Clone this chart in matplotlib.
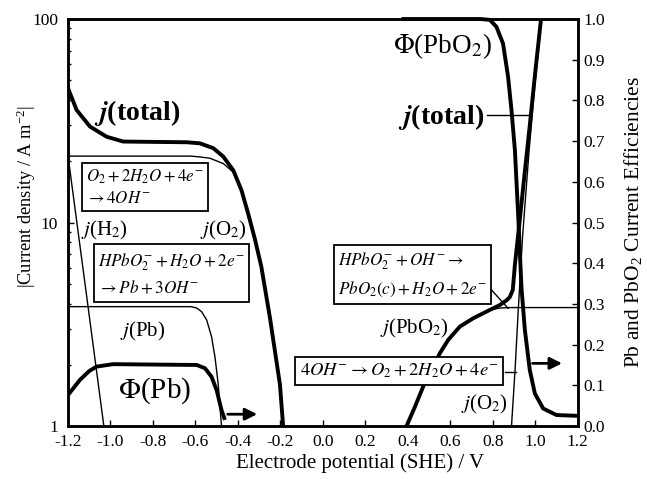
import matplotlib
matplotlib.use("Agg")
import matplotlib.pyplot as plt
from matplotlib.ticker import FixedLocator, LogLocator, NullFormatter, MultipleLocator, FormatStrFormatter

plt.rcParams['font.family'] = ['Liberation Serif', 'DejaVu Serif']
plt.rcParams['mathtext.fontset'] = 'stix'
plt.rcParams['axes.unicode_minus'] = False

# cathodic branch, potential in V (SHE), |j| in A m^-2
v_total_cat = [-1.2, -1.159, -1.096, -1.018, -0.94, -0.80, -0.641, -0.579, -0.516, -0.469,
               -0.422, -0.383, -0.352, -0.32, -0.29, -0.249, -0.202, -0.187]
j_total_cat = [45.8, 35.7, 29.6, 26.4, 25.0, 24.9, 24.8, 24.5, 23.2, 21.1,
               18.1, 14.4, 11.1, 8.3, 6.1, 3.4, 1.6, 1.0]

v_o2_cat = [-1.2, -0.62, -0.579, -0.532, -0.469, -0.422, -0.383, -0.352, -0.32, -0.29, -0.249, -0.202, -0.187]
j_o2_cat = [21.2, 21.2, 21.0, 20.7, 19.5, 17.7, 14.2, 11.0, 8.2, 6.0, 3.4, 1.6, 1.0]

v_h2 = [-1.2, -1.115, -1.031]
j_h2 = [21.4, 4.6, 1.0]

v_pb = [-1.2, -0.62, -0.594, -0.571, -0.547, -0.524, -0.508, -0.493, -0.477]
j_pb = [3.86, 3.86, 3.80, 3.65, 3.32, 2.75, 2.19, 1.62, 1.0]

v_phi_pb = [-1.2, -1.144, -1.10, -1.065, -0.987, -0.594, -0.555, -0.524, -0.50, -0.477, -0.461]
phi_pb = [0.076, 0.113, 0.135, 0.146, 0.152, 0.150, 0.142, 0.121, 0.088, 0.039, 0.015]

# anodic branch
v_total_an = [0.394, 0.433, 0.472, 0.519, 0.551, 0.590, 0.645, 0.707, 0.786, 0.833, 0.865, 0.88,
              0.894, 0.904, 0.927, 0.95, 0.974, 1.0, 1.03]
j_total_an = [1.0, 1.24, 1.56, 1.96, 2.28, 2.65, 3.08, 3.38, 3.72, 3.93, 4.15, 4.3,
              4.66, 6.2, 10.3, 17.5, 30.0, 55.0, 107.0]

v_pbo2 = [0.394, 0.433, 0.472, 0.519, 0.551, 0.590, 0.645, 0.707, 0.786, 0.833, 0.88, 1.2]
j_pbo2 = [1.0, 1.24, 1.56, 1.96, 2.28, 2.65, 3.08, 3.38, 3.72, 3.80, 3.82, 3.82]

v_o2_an = [0.888, 0.905, 0.919, 0.94, 0.97, 1.0, 1.03]
j_o2_an = [1.0, 1.9, 3.58, 8.5, 22.0, 50.0, 100.0]

v_phi_pbo2 = [0.37, 0.739, 0.786, 0.817, 0.848, 0.872, 0.888, 0.904, 0.919, 0.935, 0.951,
              0.974, 0.998, 1.037, 1.10, 1.2]
phi_pbo2 = [1.0, 1.0, 0.998, 0.981, 0.940, 0.858, 0.776, 0.678, 0.523, 0.34, 0.236,
            0.138, 0.080, 0.043, 0.027, 0.025]

fig = plt.figure(figsize=(6.47, 4.79), dpi=100)
ax = fig.add_axes([0.105, 0.1106, 0.788, 0.8497])
ax2 = ax.twinx()

thick = 2.8
thin = 1.0

ax.plot(v_total_cat, j_total_cat, color='black', lw=thick, solid_capstyle='butt')
ax.plot(v_o2_cat, j_o2_cat, color='black', lw=thin)
ax.plot(v_h2, j_h2, color='black', lw=thin)
ax.plot(v_pb, j_pb, color='black', lw=thin)
ax.plot(v_pbo2, j_pbo2, color='black', lw=thin)
ax.plot(v_o2_an, j_o2_an, color='black', lw=thin)
ax.plot(v_total_an, j_total_an, color='black', lw=thick, solid_capstyle='butt')

ax2.plot(v_phi_pb, phi_pb, color='black', lw=thick, solid_capstyle='butt')
ax2.plot(v_phi_pbo2, phi_pbo2, color='black', lw=thick, solid_capstyle='butt', clip_on=False)

ax.set_yscale('log')
ax.set_xlim(-1.2, 1.2)
ax.set_ylim(1, 100)
ax2.set_ylim(0, 1.0)

ax.xaxis.set_major_locator(MultipleLocator(0.2))
ax.xaxis.set_major_formatter(FormatStrFormatter('%.1f'))
ax.yaxis.set_major_locator(FixedLocator([1, 10, 100]))
ax.yaxis.set_major_formatter(FormatStrFormatter('%g'))
ax.yaxis.set_minor_locator(LogLocator(base=10, subs=range(2, 10)))
ax.yaxis.set_minor_formatter(NullFormatter())
ax2.yaxis.set_major_locator(MultipleLocator(0.1))
ax2.yaxis.set_major_formatter(FormatStrFormatter('%.1f'))

ax.tick_params(axis='x', which='major', direction='in', length=4, width=1, labelsize=12.5, pad=6)
ax.tick_params(axis='y', which='major', direction='in', length=4, width=1, labelsize=12.5, pad=7,
               right=False)
ax.tick_params(axis='y', which='minor', direction='in', length=2.5, width=1)
ax2.tick_params(axis='y', direction='in', length=4, width=1, labelsize=12.5, pad=4)

for sp in ax.spines.values():
    sp.set_linewidth(1.8)
for sp in ax2.spines.values():
    sp.set_linewidth(1.8)

ax.set_xlabel('Electrode potential (SHE) / V', fontsize=15)
ax.xaxis.set_label_coords(0.573, -0.068)
ax.set_ylabel(r'|Current density / A m$^{\mathregular{-2}}$|', fontsize=13.2)
ax.yaxis.set_label_coords(-0.058, 0.565)
ax2.set_ylabel(r'Pb and PbO$_\mathregular{2}$ Current Efficiencies', fontsize=15.5, labelpad=12)

# curve labels
ax.text(-0.875, 34.5, r'$\mathbfit{j}$(total)', fontsize=20, fontweight='bold', ha='center', va='center')
ax.text(0.555, 33.0, r'$\mathbfit{j}$(total)', fontsize=20, fontweight='bold', ha='center', va='center')
ax.plot([0.772, 0.969], [33.7, 33.7], color='black', lw=1.0)
ax.text(-1.026, 9.19, r'$j$(H$_2$)', fontsize=15, ha='center', va='center')
ax.text(-0.466, 9.19, r'$j$(O$_2$)', fontsize=15, ha='center', va='center')
ax.text(-0.847, 2.93, r'$j$(Pb)', fontsize=15, ha='center', va='center')
ax.text(0.433, 3.03, r'$j$(PbO$_2$)', fontsize=15, ha='center', va='center')
ax.text(0.762, 1.27, r'$j$(O$_2$)', fontsize=15, ha='center', va='center')
ax.text(-0.791, 1.50, r'$\Phi$(Pb)', fontsize=21, ha='center', va='center')
ax.text(0.565, 73.7, r'$\Phi$(PbO$_2$)', fontsize=19.5, ha='center', va='center')

# reaction boxes
box = dict(boxstyle='square,pad=0.25', facecolor='white', edgecolor='black', lw=1.3)
ax.text(-0.838, 14.9, '$O_2+2H_2O+4e^{-}$\n$\\rightarrow 4OH^{-}$', fontsize=12.2,
        ha='center', va='center', multialignment='left', bbox=box, linespacing=1.45)
ax.text(-0.712, 5.57, '$HPbO_2^{-}+H_2O+2e^{-}$\n$\\rightarrow Pb+3OH^{-}$', fontsize=12.3,
        ha='center', va='center', multialignment='left', bbox=box, linespacing=1.55)
ax.text(0.421, 5.52, '$HPbO_2^{-}+OH^{-}\\rightarrow$\n$PbO_2(c)+H_2O+2e^{-}$', fontsize=12.3,
        ha='center', va='center', multialignment='left', bbox=box, linespacing=1.55)
ax.text(0.358, 1.86, '$4OH^{-}\\rightarrow O_2+2H_2O+4e^{-}$', fontsize=13.3,
        ha='center', va='center', bbox=box)
ax.plot([0.794, 0.872], [4.66, 3.79], color='black', lw=1.0)
ax.plot([0.856, 0.911], [1.85, 1.85], color='black', lw=1.0)

# arrows pointing to the efficiency axis
arr = dict(arrowstyle='-|>', color='black', lw=2.0, mutation_scale=18)
ax2.annotate('', xy=(-0.296, 0.029), xytext=(-0.461, 0.029), arrowprops=arr)
ax2.annotate('', xy=(1.139, 0.154), xytext=(0.974, 0.154), arrowprops=arr)

fig.savefig('out.png', dpi=100)
